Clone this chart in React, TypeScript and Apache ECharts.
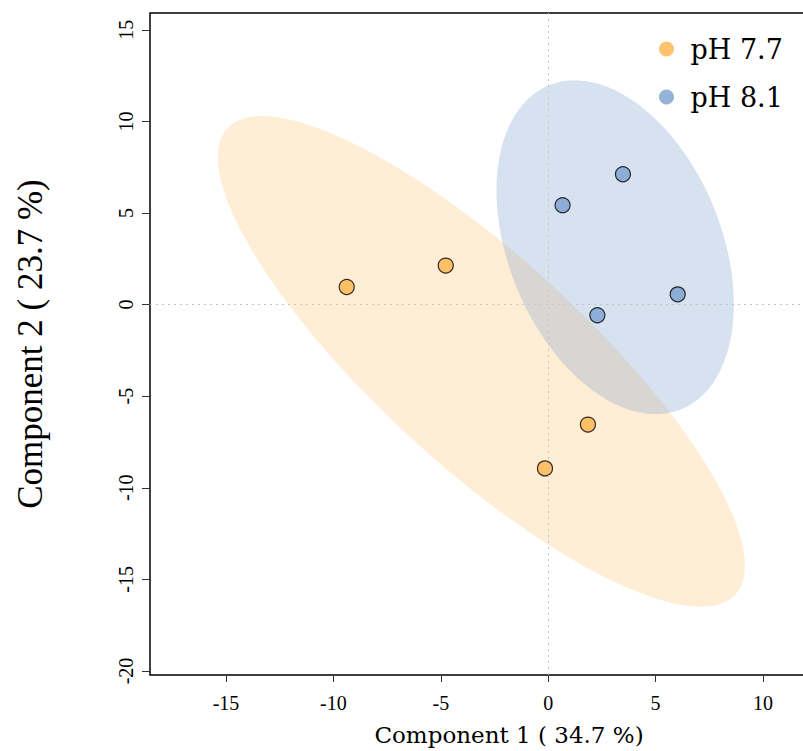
import React, { useEffect, useRef } from "react";
import * as echarts from "echarts";

// Sample scores on the first two components
const groupNames = ["pH 7.7", "pH 8.1"];
const ph77X = [-9.38, -4.77, 1.85, -0.15];
const ph77Y = [0.96, 2.13, -6.55, -8.94];
const ph81X = [3.48, 0.67, 6.03, 2.29];
const ph81Y = [7.12, 5.43, 0.56, -0.58];

const xTicks = [-15, -10, -5, 0, 5, 10];
const yTicks = [-20, -15, -10, -5, 0, 5, 10, 15];

const xTitle = "Component 1 ( 34.7 %)";
const yTitle = "Component 2 ( 23.7 %)";

const orange = "#FDB44B";
const blue = "#7A9FCF";

// 95% normal confidence ellipse (chi-square, 2 df) around a group of points
function confidenceEllipse(xs: number[], ys: number[], steps = 120): number[][] {
  const n = xs.length;
  const mx = xs.reduce((s, v) => s + v, 0) / n;
  const my = ys.reduce((s, v) => s + v, 0) / n;
  let sxx = 0, syy = 0, sxy = 0;
  for (let i = 0; i < n; i++) {
    const dx = xs[i] - mx;
    const dy = ys[i] - my;
    sxx += dx * dx;
    syy += dy * dy;
    sxy += dx * dy;
  }
  sxx /= n - 1;
  syy /= n - 1;
  sxy /= n - 1;
  const t = Math.sqrt(-2 * Math.log(0.05));
  const l11 = Math.sqrt(sxx);
  const l21 = sxy / l11;
  const l22 = Math.sqrt(Math.max(syy - l21 * l21, 0));
  const ring: number[][] = [];
  for (let k = 0; k < steps; k++) {
    const a = (2 * Math.PI * k) / steps;
    const u = Math.cos(a);
    const v = Math.sin(a);
    ring.push([mx + t * l11 * u, my + t * (l21 * u + l22 * v)]);
  }
  return ring;
}

const zip = (xs: number[], ys: number[]) => xs.map((x, i) => [x, ys[i]]);

function ellipseSeries(xs: number[], ys: number[], fill: string, z: number) {
  const ring = confidenceEllipse(xs, ys);
  return {
    type: "custom",
    coordinateSystem: "cartesian2d",
    silent: true,
    z,
    data: [ring[0]],
    encode: { x: 0, y: 1 },
    renderItem: (_params: any, api: any) => ({
      type: "polygon",
      shape: { points: ring.map((p) => api.coord(p)) },
      style: { fill },
    }),
  };
}

// The plotting region runs past the right edge of the visible page
const CHART_WIDTH = 900;

export default function App() {
  const ref = useRef<HTMLDivElement>(null);

  useEffect(() => {
    if (!ref.current) return;
    const chart = echarts.init(ref.current, null, { renderer: "svg" });
    const tickFont = { fontFamily: "Liberation Serif", fontSize: 20, color: "#000" };

    chart.setOption({
      animation: false,
      backgroundColor: "#fff",
      grid: {
        left: 150,
        top: 13,
        right: CHART_WIDTH - 868,
        bottom: 751 - 679,
        show: true,
        borderColor: "#000",
        borderWidth: 1.5,
        backgroundColor: "transparent",
      },
      legend: {
        data: groupNames,
        orient: "vertical",
        left: 659,
        top: 34,
        padding: 0,
        icon: "circle",
        itemWidth: 38,
        itemHeight: 15,
        itemGap: 18,
        itemStyle: { borderWidth: 0 },
        textStyle: {
          fontFamily: "DejaVu Serif",
          fontSize: 27,
          lineHeight: 30,
          color: "#000",
        },
      },
      xAxis: {
        type: "value",
        min: -18.54,
        max: 14.89,
        name: xTitle,
        nameLocation: "middle",
        nameGap: 48,
        nameTextStyle: { fontFamily: "DejaVu Serif", fontSize: 23, color: "#000" },
        axisLine: { show: false, onZero: false },
        axisTick: {
          show: true,
          length: 7,
          customValues: xTicks,
          lineStyle: { color: "#333", width: 1 },
        },
        axisLabel: { ...tickFont, margin: 18, customValues: xTicks },
        splitLine: { show: false },
      },
      yAxis: {
        type: "value",
        min: -20.22,
        max: 15.92,
        name: yTitle,
        nameLocation: "middle",
        nameRotate: 90,
        nameGap: 102,
        nameTextStyle: { fontFamily: "Liberation Serif", fontSize: 35, color: "#000" },
        axisLine: { show: false, onZero: false },
        axisTick: {
          show: true,
          length: 8,
          customValues: yTicks,
          lineStyle: { color: "#333", width: 1 },
        },
        axisLabel: { ...tickFont, rotate: 90, margin: 14, customValues: yTicks },
        splitLine: { show: false },
      },
      series: [
        ellipseSeries(ph77X, ph77Y, "rgba(253,180,75,0.23)", 1),
        ellipseSeries(ph81X, ph81Y, "rgba(122,159,207,0.3)", 1),
        {
          type: "line",
          data: [],
          z: 2,
          silent: true,
          markLine: {
            silent: true,
            symbol: "none",
            label: { show: false },
            lineStyle: { type: [2, 4], color: "#c4c4c4", width: 1 },
            data: [{ xAxis: 0 }, { yAxis: 0 }],
          },
        },
        {
          name: groupNames[0],
          type: "scatter",
          z: 3,
          symbolSize: 15,
          itemStyle: { color: orange, borderColor: "#000", borderWidth: 1.2 },
          data: zip(ph77X, ph77Y),
        },
        {
          name: groupNames[1],
          type: "scatter",
          z: 3,
          symbolSize: 15,
          itemStyle: { color: blue, borderColor: "#000", borderWidth: 1.2 },
          data: zip(ph81X, ph81Y),
        },
      ],
    });

    return () => chart.dispose();
  }, []);

  return (
    <div
      ref={ref}
      style={{ position: "fixed", left: 0, top: 0, width: CHART_WIDTH, height: 751 }}
    />
  );
}
